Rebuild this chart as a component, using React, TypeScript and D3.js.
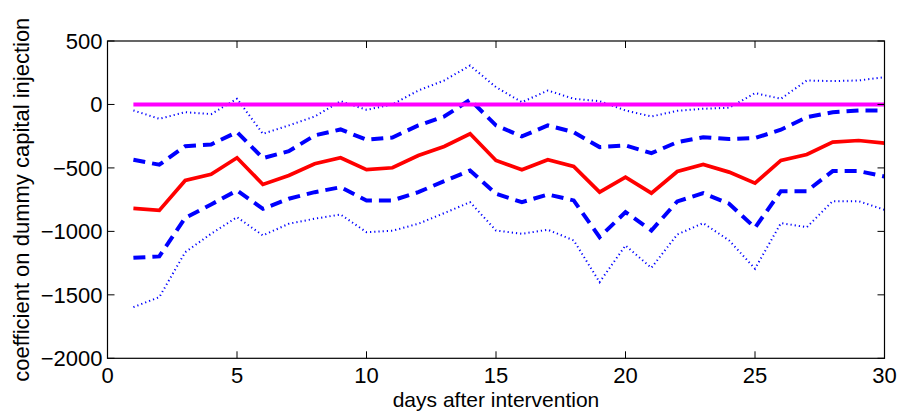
import React from "react";
import * as d3 from "d3";

const days = d3.range(1, 31);
const meanCoef = [-819, -835, -599, -551, -420, -630, -559, -467, -420, -514, -499, -402, -331, -231, -441, -514, -436, -488, -691, -573, -699, -528, -473, -533, -620, -441, -394, -297, -284, -305];
const upper95 = [-436, -475, -329, -315, -218, -423, -368, -244, -197, -278, -260, -165, -95, 37, -165, -252, -165, -218, -336, -323, -384, -297, -258, -273, -265, -199, -100, -61, -47, -47];
const lower95 = [-1208, -1197, -893, -788, -678, -822, -743, -691, -652, -756, -756, -691, -604, -520, -704, -770, -709, -756, -1045, -848, -993, -764, -699, -782, -971, -683, -683, -525, -525, -567];
const upper99 = [-47, -113, -61, -76, 45, -231, -165, -95, 26, -42, 0, 110, 189, 307, 136, 18, 110, 45, 26, -47, -95, -50, -34, -26, 89, 45, 189, 184, 189, 215];
const lower99 = [-1597, -1518, -1164, -1019, -888, -1032, -940, -900, -867, -1006, -995, -940, -856, -770, -993, -1019, -987, -1071, -1400, -1111, -1287, -1024, -935, -1071, -1294, -935, -967, -762, -762, -830];
const zeroLine = days.map(() => 0);

const xTicks = [0, 5, 10, 15, 20, 25, 30];
const yTicks = [500, 0, -500, -1000, -1500, -2000];

const W = 898, H = 412;
const L = 107.5, R = 884.5, T = 41, B = 358.3;

export default function App() {
  const x = d3.scaleLinear().domain([0, 30]).range([L, R]);
  const y = d3.scaleLinear().domain([-2000, 500]).range([B, T]);
  const line = d3.line<number>().x((_, i) => x(days[i])).y((v) => y(v));
  const font = "'Liberation Sans', Arial, Helvetica, sans-serif";
  const tl = 7;
  const fs = 22;
  return (
    <svg width={W} height={H} style={{ position: "absolute", left: 0, top: 0 }}>
      <rect x={0} y={0} width={W} height={H} fill="#fff" />
      {/* dotted bands */}
      <path d={line(upper99) || ""} fill="none" stroke="#0000ff" strokeWidth={2} strokeDasharray="1.2,3" />
      <path d={line(lower99) || ""} fill="none" stroke="#0000ff" strokeWidth={2} strokeDasharray="1.2,3" />
      {/* dashed bands */}
      <path d={line(upper95) || ""} fill="none" stroke="#0000ff" strokeWidth={4} strokeDasharray="12,7" />
      <path d={line(lower95) || ""} fill="none" stroke="#0000ff" strokeWidth={4} strokeDasharray="12,7" />
      {/* zero line */}
      <path d={line(zeroLine) || ""} fill="none" stroke="#ff00ff" strokeWidth={4} />
      {/* mean */}
      <path d={line(meanCoef) || ""} fill="none" stroke="#ff0000" strokeWidth={3.7} strokeLinejoin="miter" />
      {/* box */}
      <rect x={L} y={T} width={R - L} height={B - T} fill="none" stroke="#000" strokeWidth={1.2} />
      {xTicks.map((t) => (
        <g key={"x" + t}>
          <line x1={x(t)} x2={x(t)} y1={B} y2={B - tl} stroke="#000" strokeWidth={1} />
          <line x1={x(t)} x2={x(t)} y1={T} y2={T + tl} stroke="#000" strokeWidth={1} />
          <text x={x(t)} y={383} textAnchor="middle" fontFamily={font} fontSize={fs} fill="#000">
            {t}
          </text>
        </g>
      ))}
      {yTicks.map((t) => (
        <g key={"y" + t}>
          <line x1={L} x2={L + tl} y1={y(t)} y2={y(t)} stroke="#000" strokeWidth={1} />
          <line x1={R} x2={R - tl} y1={y(t)} y2={y(t)} stroke="#000" strokeWidth={1} />
          <text x={L - 5} y={y(t) + 8} textAnchor="end" fontFamily={font} fontSize={fs} fill="#000">
            {t < 0 ? "\u2212" + Math.abs(t) : String(t)}
          </text>
        </g>
      ))}
      <text x={(L + R) / 2} y={407} textAnchor="middle" fontFamily={font} fontSize={21} fill="#000">
        days after intervention
      </text>
      <text
        transform={`translate(29,${(T + B) / 2}) rotate(-90)`}
        textAnchor="middle"
        fontFamily={font}
        fontSize={fs}
        fill="#000"
      >
        coefficient on dummy capital injection
      </text>
    </svg>
  );
}
